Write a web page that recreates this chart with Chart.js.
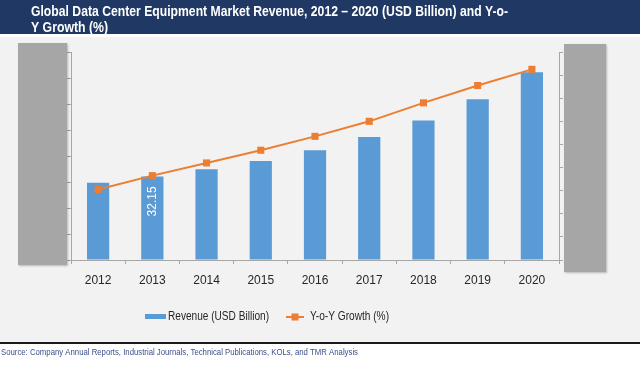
<!DOCTYPE html>
<html>
<head>
<meta charset="utf-8">
<title>Global Data Center Equipment Market Revenue</title>
<script src="https://cdn.jsdelivr.net/npm/chart.js@4/dist/chart.umd.min.js"></script>
<style>
    body { margin: 0; background: #ffffff; }
    canvas { display: block; }
</style>
</head>
<body>
<canvas id="chartcanvas" width="640" height="366"></canvas>
<script>
//Chart data
var years = ["2012", "2013", "2014", "2015", "2016", "2017", "2018", "2019", "2020"];
var revenue = [29.7, 32.15, 34.9, 38.1, 42.2, 47.3, 53.7, 61.8, 72.2];
var growth = [6.1, 7.3, 8.4, 9.5, 10.7, 12.0, 13.6, 15.1, 16.5];
var revenueLabel = "Revenue (USD Billion)";
var growthLabel = "Y-o-Y Growth (%)";
var labelledYear = 1; //only 2013 carries a value label

var titleLines = ["Global Data Center Equipment Market Revenue, 2012 \u2013 2020 (USD Billion) and Y-o-", "Y Growth (%)"];
var sourceText = "Source: Company Annual Reports, Industrial Journals, Technical Publications, KOLs, and TMR Analysis";

var barColor = "#5b9bd5";
var lineColor = "#ed7d31";
var axisColor = "#a6a6a6";

//Backgrounds, title bar and the source line
var framePlugin = {
    id: "frame",
    beforeDraw: function (chart) {
        var ctx = chart.ctx;
        ctx.save();
        ctx.fillStyle = "#ffffff";
        ctx.fillRect(0, 0, 640, 366);
        ctx.fillStyle = "#1f3864";
        ctx.fillRect(0, 0, 640, 34);
        ctx.fillStyle = "#f2f2f2";
        ctx.fillRect(0, 37, 640, 305);
        ctx.fillStyle = "#1a1a1a";
        ctx.fillRect(0, 342, 640, 2);

        ctx.fillStyle = "#ffffff";
        ctx.font = "bold 15px 'Liberation Sans', Arial, sans-serif";
        ctx.textBaseline = "middle";
        ctx.fillText(titleLines[0], 31, 12, 477);
        ctx.fillText(titleLines[1], 31, 28, 77);

        ctx.fillStyle = "#3b4f8a";
        ctx.font = "9px 'Liberation Sans', Arial, sans-serif";
        ctx.fillText(sourceText, 1, 353, 357);
        ctx.restore();
    },
    afterDraw: function (chart) {
        var ctx = chart.ctx;
        ctx.save();
        //Grey boxes covering the axis labels
        ctx.shadowColor = "rgba(0,0,0,0.25)";
        ctx.shadowBlur = 2;
        ctx.shadowOffsetX = 1;
        ctx.shadowOffsetY = 1;
        ctx.fillStyle = "#a6a6a6";
        ctx.fillRect(18, 43, 49, 222);
        ctx.fillRect(564, 44, 42, 228);
        ctx.restore();

        //Legend
        ctx.save();
        ctx.font = "12px 'Liberation Sans', Arial, sans-serif";
        ctx.textBaseline = "middle";
        ctx.fillStyle = chart.data.datasets[0].backgroundColor;
        ctx.fillRect(145, 314, 21, 5);
        ctx.fillStyle = "#262626";
        ctx.fillText(chart.data.datasets[0].label, 168, 317, 101);

        ctx.strokeStyle = chart.data.datasets[1].borderColor;
        ctx.lineWidth = 2;
        ctx.beginPath();
        ctx.moveTo(286, 317);
        ctx.lineTo(304, 317);
        ctx.stroke();
        ctx.fillStyle = chart.data.datasets[1].borderColor;
        ctx.fillRect(291.5, 313.5, 7, 7);
        ctx.fillStyle = "#262626";
        ctx.fillText(chart.data.datasets[1].label, 310, 317, 79);
        ctx.restore();
    }
};

//White rotated value label inside one bar
var valueLabelPlugin = {
    id: "valueLabel",
    afterDatasetsDraw: function (chart) {
        var bar = chart.getDatasetMeta(0).data[labelledYear];
        var ctx = chart.ctx;
        ctx.save();
        ctx.translate(bar.x, bar.y + 25);
        ctx.rotate(-Math.PI / 2);
        ctx.fillStyle = "#ffffff";
        ctx.font = "12px 'Liberation Sans', Arial, sans-serif";
        ctx.textAlign = "center";
        ctx.textBaseline = "middle";
        ctx.fillText(revenue[labelledYear].toFixed(2), 0, 0);
        ctx.restore();
    }
};

var canvas = document.getElementById("chartcanvas");
var chart = new Chart(canvas.getContext("2d"), {
    type: "bar",
    data: {
        labels: years,
        datasets: [{
            label: revenueLabel,
            data: revenue,
            backgroundColor: barColor,
            categoryPercentage: 1,
            barPercentage: 0.41,
            yAxisID: "y",
            order: 2
        }, {
            type: "line",
            label: growthLabel,
            data: growth,
            borderColor: lineColor,
            backgroundColor: lineColor,
            borderWidth: 2,
            pointStyle: "rect",
            pointRadius: 5,
            pointHoverRadius: 5,
            pointBorderWidth: 0,
            tension: 0,
            yAxisID: "y1",
            order: 1
        }]
    },
    options: {
        responsive: false,
        animation: false,
        devicePixelRatio: 1,
        layout: { padding: { top: 52, left: 0, right: 0, bottom: 0 } },
        plugins: {
            legend: { display: false },
            title: { display: false },
            tooltip: { enabled: false }
        },
        scales: {
            x: {
                offset: true,
                grid: { offset: true, drawOnChartArea: false, drawTicks: true, tickLength: 4, color: axisColor },
                border: { color: axisColor },
                ticks: { color: "#262626", padding: 9, font: { family: "'Liberation Sans', Arial, sans-serif", size: 12 } },
                afterFit: function (scale) { scale.height = 106; }
            },
            y: {
                position: "left",
                min: 0,
                max: 80,
                ticks: { stepSize: 10, display: false },
                grid: { drawOnChartArea: false, drawTicks: true, tickLength: 4, color: axisColor },
                border: { color: axisColor },
                afterFit: function (scale) { scale.width = 71; }
            },
            y1: {
                position: "right",
                min: 0,
                max: 18,
                ticks: { stepSize: 2, display: false },
                grid: { drawOnChartArea: false, drawTicks: true, tickLength: 4, color: axisColor },
                border: { color: axisColor },
                afterFit: function (scale) { scale.width = 81; }
            }
        }
    },
    plugins: [framePlugin, valueLabelPlugin]
});
</script>
</body>
</html>
